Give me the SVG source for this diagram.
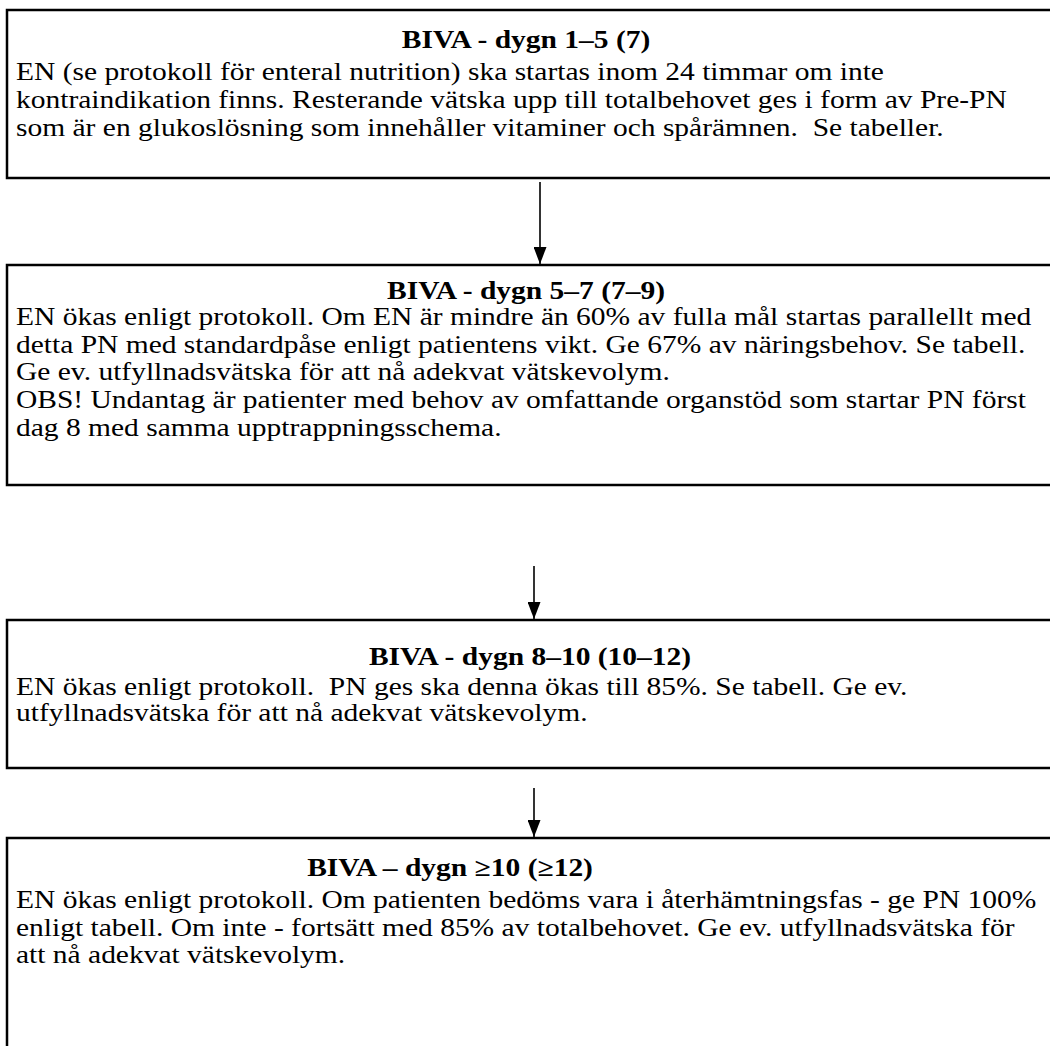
<svg xmlns="http://www.w3.org/2000/svg" width="1050" height="1046" viewBox="0 0 1050 1046">
<style>
.box{fill:#fff;stroke:#000;stroke-width:2.5}
.t{font-family:"Liberation Serif","Times New Roman",serif;font-size:25px;fill:#000}
.h{font-weight:bold;text-anchor:middle}
.c{stroke:#000;stroke-width:1.6;fill:none}
</style>
<defs>
<marker id="ah" markerWidth="17" markerHeight="13" refX="17" refY="6.5" orient="auto" markerUnits="userSpaceOnUse" viewBox="0 0 17 13">
<path d="M0,0 L17,6.5 L0,13 Z" fill="#000"/>
</marker>
</defs>
<rect width="1050" height="1046" fill="#fff"/>
<g id="box1">
<rect class="box" x="7" y="10" width="1060" height="168"/>
<g transform="scale(1.18 1)">
<text class="t h" x="445.8" y="48">BIVA - dygn 1–5 (7)</text>
<text class="t" x="13.56" y="80">EN (se protokoll för enteral nutrition) ska startas inom 24 timmar om inte</text>
<text class="t" x="13.56" y="108">kontraindikation finns. Resterande vätska upp till totalbehovet ges i form av Pre-PN</text>
<text class="t" x="13.56" y="136" xml:space="preserve">som är en glukoslösning som innehåller vitaminer och spårämnen.  Se tabeller.</text>
</g>
</g>
<g id="box2">
<rect class="box" x="7" y="265" width="1060" height="220"/>
<g transform="scale(1.18 1)">
<text class="t h" x="445.8" y="299">BIVA - dygn 5–7 (7–9)</text>
<text class="t" x="13.56" y="325">EN ökas enligt protokoll. Om EN är mindre än 60% av fulla mål startas parallellt med</text>
<text class="t" x="13.56" y="353">detta PN med standardpåse enligt patientens vikt. Ge 67% av näringsbehov. Se tabell.</text>
<text class="t" x="13.56" y="380">Ge ev. utfyllnadsvätska för att nå adekvat vätskevolym.</text>
<text class="t" x="13.56" y="408">OBS! Undantag är patienter med behov av omfattande organstöd som startar PN först</text>
<text class="t" x="13.56" y="436">dag 8 med samma upptrappningsschema.</text>
</g>
</g>
<g id="box3">
<rect class="box" x="7" y="620" width="1060" height="148"/>
<g transform="scale(1.18 1)">
<text class="t h" x="449.2" y="665">BIVA - dygn 8–10 (10–12)</text>
<text class="t" x="13.56" y="695" xml:space="preserve">EN ökas enligt protokoll.  PN ges ska denna ökas till 85%. Se tabell. Ge ev.</text>
<text class="t" x="13.56" y="721">utfyllnadsvätska för att nå adekvat vätskevolym.</text>
</g>
</g>
<g id="box4">
<rect class="box" x="7" y="838" width="1060" height="230"/>
<g transform="scale(1.18 1)">
<text class="t h" x="381.4" y="876">BIVA – dygn ≥10 (≥12)</text>
<text class="t" x="13.56" y="908">EN ökas enligt protokoll. Om patienten bedöms vara i återhämtningsfas - ge PN 100%</text>
<text class="t" x="13.56" y="936">enligt tabell. Om inte - fortsätt med 85% av totalbehovet. Ge ev. utfyllnadsvätska för</text>
<text class="t" x="13.56" y="963">att nå adekvat vätskevolym.</text>
</g>
</g>
<g id="connectors">
<line class="c" x1="540" y1="182" x2="540" y2="264" marker-end="url(#ah)"/>
<line class="c" x1="534" y1="566" x2="534" y2="619" marker-end="url(#ah)"/>
<line class="c" x1="534" y1="788" x2="534" y2="837" marker-end="url(#ah)"/>
</g>
</svg>
